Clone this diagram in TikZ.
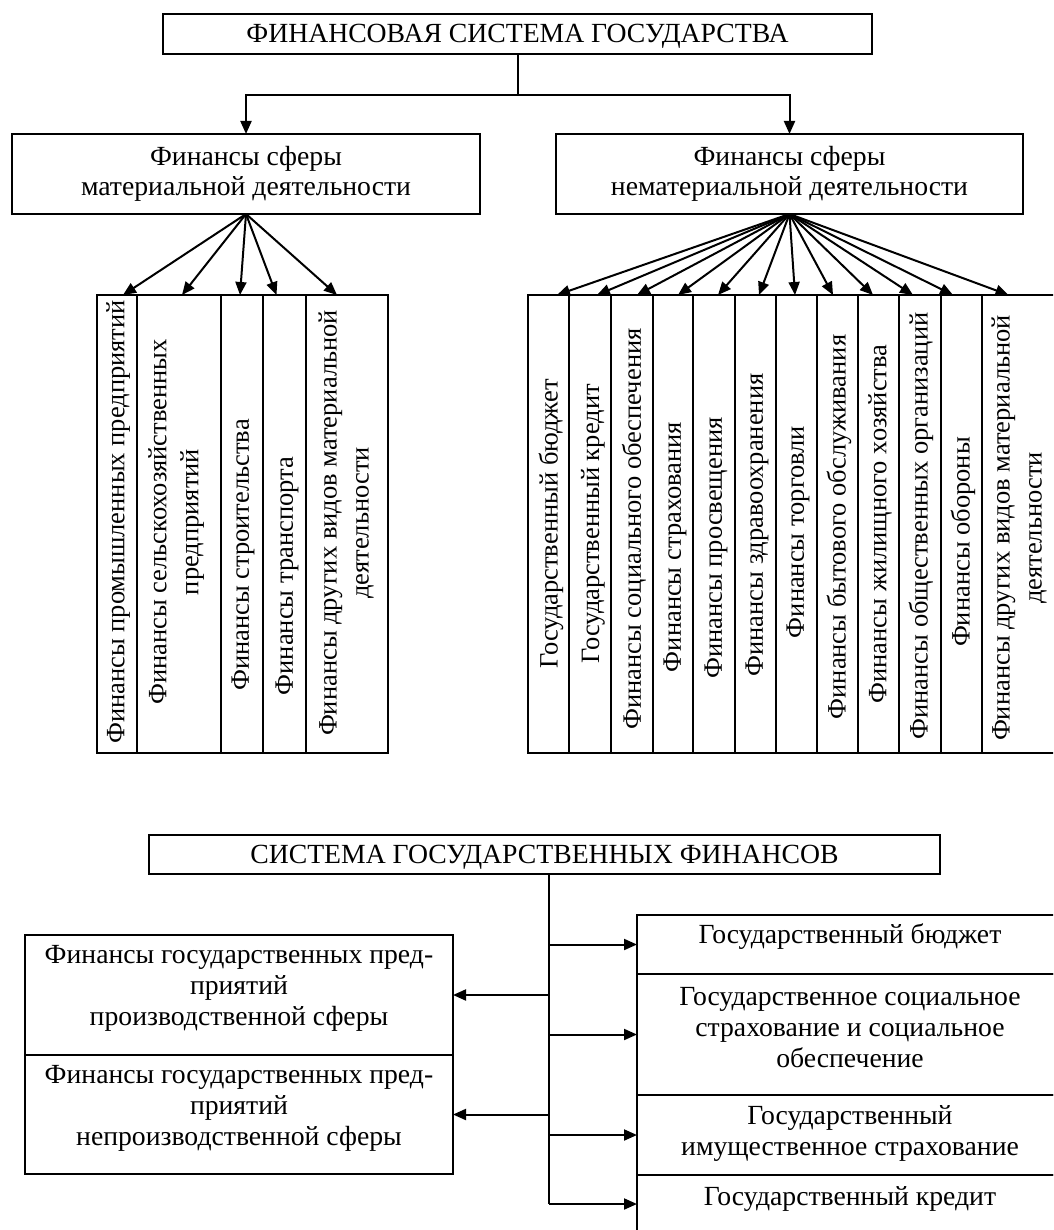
\documentclass[tikz,border=0pt]{standalone}
\usepackage{fontspec}
\setmainfont{Liberation Serif}
\usetikzlibrary{arrows.meta,calc}
\begin{document}
\begin{tikzpicture}[x=1pt,y=-1pt,
 box/.style={draw, line width=1.5pt, inner sep=0pt, outer sep=0pt, anchor=north west,
   font=\fontsize{27.7}{30}\selectfont, align=center},
 title/.style={text height=18pt, text depth=0pt},
 conn/.style={line width=2pt},
 arr/.style={conn, -{Triangle[length=13pt,width=11pt]}},
 txt/.style={font=\fontsize{27.7}{31}\selectfont, align=center, inner sep=0pt, yshift=-2pt},
 vtxt/.style={font=\fontsize{26.5}{32}\selectfont, align=center, inner sep=0pt, rotate=90}
]
\useasboundingbox (0,0) rectangle (1053,1230);
\fill[white] (0,0) rectangle (1053,1230);
\clip (0,0) rectangle (1053,1230);

% ---------- upper scheme ----------
\node[box, title, minimum width=709pt, minimum height=40pt] (top) at (163,14) {ФИНАНСОВАЯ СИСТЕМА ГОСУДАРСТВА};
\node[box, minimum width=468pt, minimum height=80pt] (mat) at (12,134) {Финансы сферы\\материальной деятельности};
\node[box, minimum width=467pt, minimum height=80pt] (nmat) at (556,134) {Финансы сферы\\нематериальной деятельности};

\coordinate (j1) at (517.5,95);
\draw[conn] (top.south) -- (j1);
\draw[arr] (j1) -| (mat.north);
\draw[arr] (j1) -| (nmat.north);

% left columns
\foreach \n/\x/\w in {c1/97/40, c2/137/84, c3/221/42, c4/263/43, c5/306/82}
  \node[box, minimum width=\w pt, minimum height=458pt] (\n) at (\x,295) {};
% right columns
\foreach \n/\x/\w in {d1/528/41, d2/569/42, d3/611/42, d4/653/40, d5/693/42, d6/735/41,
  d7/776/41, d8/817/41, d9/858/41, d10/899/42, d11/941/41, d12/982/76}
  \node[box, minimum width=\w pt, minimum height=458pt] (\n) at (\x,295) {};

% texts in left columns
\node[vtxt] (tc1) at (118,522) {Финансы промышленных предприятий};
\node[vtxt] (tc2) at (176,522) {Финансы сельскохозяйственных\\предприятий};
\node[vtxt] (tc3) at (243,555) {Финансы строительства};
\node[vtxt] (tc4) at (287,576) {Финансы транспорта};
\node[vtxt] (tc5) at (346,523) {Финансы других видов материальной\\деятельности};

% texts in right columns
\node[vtxt] (td1) at (551,524) {Государственный бюджет};
\node[vtxt] (td2) at (593,524) {Государственный кредит};
\node[vtxt] (td3) at (634,529) {Финансы социального обеспечения};
\node[vtxt] (td4) at (675,547) {Финансы страхования};
\node[vtxt] (td5) at (716,548) {Финансы просвещения};
\node[vtxt] (td6) at (757,525) {Финансы здравоохранения};
\node[vtxt] (td7) at (798,532) {Финансы торговли};
\node[vtxt] (td8) at (839,527) {Финансы бытового обслуживания};
\node[vtxt] (td9) at (880,524) {Финансы жилищного хозяйства};
\node[vtxt] (td10) at (921,526) {Финансы общественных организаций};
\node[vtxt] (td11) at (963,542) {Финансы обороны};
\node[vtxt] (td12) at (1019,528) {Финансы других видов материальной\\деятельности};

% fan arrows
\foreach \n/\s in {c1/6, c2/3, c3/-2, c4/-8, c5/-10}
  \draw[arr] (mat.south) -- ([xshift=\s pt]\n.north);
\foreach \n/\s in {d1/8.5, d2/7, d3/5, d4/5, d5/4, d6/3.5, d7/-1.5, d8/-4.5, d9/-5.5, d10/-7, d11/-8.5, d12/-11.5}
  \draw[arr] (nmat.south) -- ([xshift=\s pt]\n.north);

% ---------- lower scheme ----------
\node[box, title, minimum width=791pt, minimum height=39pt] (sys) at (149,835) {СИСТЕМА ГОСУДАРСТВЕННЫХ ФИНАНСОВ};

\node[box, minimum width=428pt, minimum height=120pt] (l1) at (25,935) {};
\node[box, minimum width=428pt, minimum height=119pt] (l2) at (25,1055) {};
\node[txt] (tl1) at (239,986) {Финансы государственных пред-\\приятий\\производственной сферы};
\node[txt] (tl2) at (239,1106) {Финансы государственных пред-\\приятий\\непроизводственной сферы};

\node[box, minimum width=426pt, minimum height=59pt] (r1) at (637,915) {};
\node[box, minimum width=426pt, minimum height=121pt] (r2) at (637,974) {};
\node[box, minimum width=426pt, minimum height=80pt] (r3) at (637,1095) {};
\node[box, minimum width=426pt, minimum height=58pt] (r4) at (637,1175) {};
\node[txt] (tr1) at (850,935) {Государственный бюджет};
\node[txt] (tr2) at (850,1026) {Государственное социальное\\страхование и социальное\\обеспечение};
\node[txt] (tr3) at (850,1131) {Государственный\\имущественное страхование};
\node[txt] (tr4) at (850,1197) {Государственный кредит};

\coordinate (tr) at ([xshift=4.5pt]sys.south);
\draw[conn] (tr) -- (r4.west -| tr);
\foreach \n in {r1,r2,r3,r4}
  \draw[arr] (\n.west -| tr) -- (\n.west);
\foreach \n in {l1,l2}
  \draw[arr] (\n.east -| tr) -- (\n.east);
\end{tikzpicture}
\end{document}
